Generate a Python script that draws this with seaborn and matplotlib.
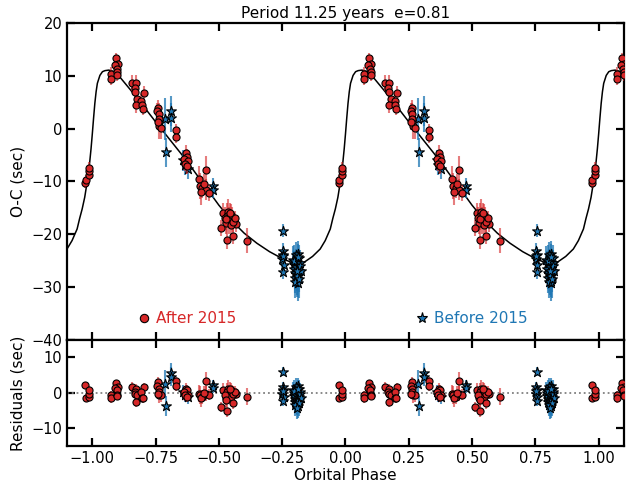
import numpy as np
import pandas as pd
import matplotlib
matplotlib.use("Agg")
import matplotlib.pyplot as plt
from matplotlib.lines import Line2D
import seaborn as sns

# ---- data (base orbital phase in [0, 1)) ----
# after 2015 (red circles)
red_phase = [0.973, 0.975, 0.985, 0.986, 0.987,
             0.074, 0.074, 0.092, 0.101, 0.088, 0.096, 0.099, 0.099,
             0.158, 0.173, 0.167, 0.170, 0.204, 0.178, 0.194, 0.173, 0.195, 0.199,
             0.261, 0.257, 0.263, 0.262, 0.265, 0.273, 0.259,
             0.331, 0.331,
             0.369, 0.375, 0.362, 0.378, 0.365, 0.373,
             0.448, 0.422, 0.426, 0.435, 0.448, 0.461, 0.428, 0.440,
             0.518, 0.536, 0.547, 0.531, 0.553, 0.540, 0.527, 0.566, 0.547, 0.557,
             0.523, 0.530, 0.562, 0.542, 0.510, 0.531, 0.555, 0.610]
red_oc = [-10.2, -9.7, -8.7, -8.1, -7.4,
          10.4, 9.4, 13.4, 12.3, 12.1, 11.3, 10.7, 10.1,
          8.6, 8.6, 7.8, 6.9, 6.8, 5.6, 5.3, 4.5, 4.5, 3.8,
          4.0, 3.3, 2.8, 1.8, 0.6, 0.1, 1.2,
          -0.3, -1.6,
          -4.6, -5.4, -5.7, -6.2, -6.6, -7.0,
          -7.9, -9.5, -10.8, -11.2, -11.6, -12.2, -11.9, -10.5,
          -16.0, -15.8, -16.3, -16.6, -16.9, -17.4, -17.9, -18.0, -18.2, -17.6,
          -16.9, -17.2, -17.0, -16.0, -18.8, -21.0, -20.4, -21.2]
red_err = [1.0, 1.0, 1.0, 1.0, 1.0,
           1.2, 1.2, 1.0, 1.0, 1.2, 1.0, 1.0, 1.0,
           1.5, 1.5, 1.2, 1.2, 1.2, 1.5, 1.2, 1.5, 1.2, 1.2,
           1.5, 1.5, 2.0, 2.0, 2.5, 2.0, 1.5,
           1.2, 1.2,
           1.5, 1.5, 1.5, 1.5, 1.5, 1.5,
           2.7, 2.5, 2.5, 2.0, 2.0, 1.5, 2.5, 2.0,
           2.0, 2.5, 2.0, 2.5, 2.0, 2.5, 2.0, 1.5, 2.0, 2.0,
           2.0, 2.0, 1.5, 2.0, 1.5, 1.8, 1.5, 2.4]
red_res = [2.2, -1.6, -1.1, -0.2, 0.8,
           -0.7, -1.6, 2.7, 1.7, 1.4, 0.8, -0.5, -0.8,
           1.7, 1.0, 0.3, -0.2, 1.7, -0.7, 0.1, -2.6, -1.4, -1.6,
           3.1, 2.0, 1.0, 0.3, -0.5, -0.7, -0.2,
           3.3, 1.8,
           1.2, 0.8, 0.3, -0.7, -0.7, -1.1,
           3.3, -0.2, -0.7, -1.1, -0.2, -0.5, -1.6, 0.0,
           0.8, 1.2, 0.8, 0.3, 0.3, -0.7, -1.4, -0.2, -1.1, -0.2,
           -0.7, -2.1, 0.3, 1.0, -4.0, -5.0, -3.0, -1.1]

# before 2015 (blue stars)
blue_phase = [0.287, 0.290, 0.312, 0.312,
              0.360, 0.365, 0.378,
              0.478, 0.478,
              0.755, 0.752, 0.755, 0.751, 0.756, 0.755, 0.753,
              0.792, 0.795, 0.797, 0.800, 0.800, 0.803, 0.805, 0.806, 0.808, 0.810,
              0.811, 0.812, 0.814, 0.815, 0.817, 0.818, 0.820, 0.821, 0.823, 0.798,
              0.809, 0.813, 0.802, 0.816, 0.807]
blue_oc = [1.8, -4.5, 3.4, 2.1,
           -6.0, -6.8, -7.6,
           -10.8, -11.6,
           -19.3, -23.2, -23.9, -24.7, -25.8, -27.2, -24.2,
           -24.8, -25.6, -26.5, -27.3, -28.2, -24.0, -25.2, -26.2, -27.7, -28.8,
           -29.2, -23.8, -25.8, -26.9, -27.5, -24.5, -25.4, -26.0, -27.0, -25.0,
           -28.0, -24.4, -29.0, -28.5, -27.0]
blue_err = [4.0, 2.8, 2.8, 2.8,
            2.0, 2.0, 2.0,
            1.5, 1.5,
            1.2, 1.5, 1.5, 1.5, 1.5, 1.2, 1.5,
            2.5, 2.5, 3.0, 3.0, 3.0, 2.5, 2.5, 3.0, 3.0, 3.0,
            3.5, 2.5, 3.0, 3.0, 3.5, 2.5, 2.5, 2.5, 2.5, 3.0,
            3.5, 2.5, 3.0, 3.5, 3.0]
blue_res = [2.4, -3.7, 5.5, 4.6,
            0.3, -0.5, -1.1,
            2.2, 1.4,
            6.0, 1.7, 0.8, -0.2, -1.1, -2.4, 0.4,
            0.7, -0.1, -1.0, -1.8, -2.7, 1.6, 0.4, -0.6, -2.1, -3.2,
            -3.6, 1.8, -0.2, -1.3, -1.9, 1.1, 0.2, -0.4, -1.4, 0.5,
            -2.5, 1.2, -3.5, -3.0, -4.4]

# model curve
curve_phase = [0.0, 0.005, 0.01, 0.015, 0.02, 0.03, 0.04, 0.05, 0.065, 0.08, 0.10,
               0.15, 0.20, 0.25, 0.30, 0.35, 0.40, 0.45, 0.50, 0.55, 0.60, 0.65,
               0.70, 0.75, 0.79, 0.81, 0.84, 0.87, 0.90, 0.92, 0.94, 0.95, 0.96,
               0.97, 0.98, 0.985, 0.99, 0.995]
curve_oc = [-1.0, 2.0, 4.8, 7.0, 8.6, 10.1, 10.8, 11.0, 11.1, 10.9, 10.3,
            7.4, 4.4, 1.3, -1.7, -4.7, -7.9, -11.2, -14.5, -17.4, -19.8, -21.7,
            -23.3, -24.6, -25.4, -25.6, -25.2, -24.2, -22.8, -21.2, -19.0, -17.0, -15.2,
            -13.0, -10.0, -8.3, -6.2, -3.8]

RED = "#d62728"
BLUE = "#1f77b4"


def fold(phase, cols, lo=-1.15, hi=1.15, shifts=(-2, -1, 0, 1)):
    df = pd.DataFrame(dict(phase=phase, **cols))
    parts = []
    for s in shifts:
        d = df.copy()
        d["phase"] = d["phase"] + s
        parts.append(d)
    out = pd.concat(parts, ignore_index=True)
    return out[(out.phase >= lo) & (out.phase <= hi)]


red = fold(red_phase, dict(oc=red_oc, err=red_err, res=red_res))
blue = fold(blue_phase, dict(oc=blue_oc, err=blue_err, res=blue_res))
curve = fold(curve_phase, dict(oc=curve_oc), lo=-1.3, hi=1.3).sort_values("phase")

sns.set_style("ticks")
plt.rcParams["font.family"] = ["DejaVu Sans"]
plt.rcParams.update({"text.color": "black", "axes.labelcolor": "black",
                     "xtick.color": "black", "ytick.color": "black",
                     "axes.edgecolor": "black"})

fig = plt.figure(figsize=(6.38, 4.82), dpi=100)
ax = fig.add_axes([0.105, 0.295, 0.873, 0.657])
axr = fig.add_axes([0.105, 0.075, 0.873, 0.22], sharex=ax)

# top: O-C
sns.lineplot(data=curve, x="phase", y="oc", color="black", lw=1.1,
             sort=False, estimator=None, ax=ax, zorder=2)
ax.errorbar(blue.phase, blue.oc, yerr=blue.err, fmt="none",
            ecolor=BLUE, alpha=0.75, elinewidth=1.5, zorder=3)
sns.scatterplot(data=blue, x="phase", y="oc", marker="*", s=55, color=BLUE,
                edgecolor="black", linewidth=0.8, ax=ax, zorder=4)
ax.errorbar(red.phase, red.oc, yerr=red.err, fmt="none",
            ecolor=RED, alpha=0.6, elinewidth=1.5, zorder=5)
sns.scatterplot(data=red, x="phase", y="oc", marker="o", s=26, color=RED,
                edgecolor="black", linewidth=0.8, ax=ax, zorder=6)

# bottom: residuals
axr.axhline(0, color="gray", ls=":", lw=1.3, zorder=1)
axr.errorbar(blue.phase, blue.res, yerr=blue.err, fmt="none",
             ecolor=BLUE, alpha=0.75, elinewidth=1.5, zorder=3)
sns.scatterplot(data=blue, x="phase", y="res", marker="*", s=55, color=BLUE,
                edgecolor="black", linewidth=0.8, ax=axr, zorder=4)
axr.errorbar(red.phase, red.res, yerr=red.err, fmt="none",
             ecolor=RED, alpha=0.6, elinewidth=1.5, zorder=5)
sns.scatterplot(data=red, x="phase", y="res", marker="o", s=26, color=RED,
                edgecolor="black", linewidth=0.8, ax=axr, zorder=6)

ax.set_xlim(-1.1, 1.1)
ax.set_ylim(-40, 20)
ax.set_yticks([-40, -30, -20, -10, 0, 10, 20])
axr.set_ylim(-15, 15)
axr.set_yticks([-10, 0, 10])
axr.set_xticks([-1.0, -0.75, -0.5, -0.25, 0.0, 0.25, 0.5, 0.75, 1.0])
axr.set_xticklabels(["\u22121.00", "\u22120.75", "\u22120.50", "\u22120.25",
                     "0.00", "0.25", "0.50", "0.75", "1.00"])

for a in (ax, axr):
    for sp in a.spines.values():
        sp.set_linewidth(1.6)
        sp.set_visible(True)
        sp.set_color("black")
    a.tick_params(direction="in", length=6, width=1.6, labelsize=10.5,
                  top=True, right=True, colors="black")
ax.tick_params(labelbottom=False)

ax.set_xlabel("")
ax.set_ylabel("O-C (sec)", fontsize=11)
axr.set_ylabel("Residuals (sec)", fontsize=11)
axr.set_xlabel("Orbital Phase", fontsize=11, labelpad=2)
ax.set_title("Period 11.25 years  e=0.81", fontsize=11, pad=4)

# legend entries
h_red = Line2D([], [], marker="o", ls="none", color=RED, mec="black",
               mew=0.8, ms=6, label="After 2015")
h_blue = Line2D([], [], marker="*", ls="none", color=BLUE, mec="black",
                mew=0.8, ms=8, label="Before 2015")
leg1 = ax.legend(handles=[h_red], loc="center left", bbox_to_anchor=(0.125, 0.066),
                 frameon=False, fontsize=11, handlelength=1, handletextpad=0.3,
                 borderpad=0, borderaxespad=0, labelcolor=RED)
ax.add_artist(leg1)
ax.legend(handles=[h_blue], loc="center left", bbox_to_anchor=(0.624, 0.066),
          frameon=False, fontsize=11, handlelength=1, handletextpad=0.3,
          borderpad=0, borderaxespad=0, labelcolor=BLUE)

fig.savefig("out.png", dpi=100)
